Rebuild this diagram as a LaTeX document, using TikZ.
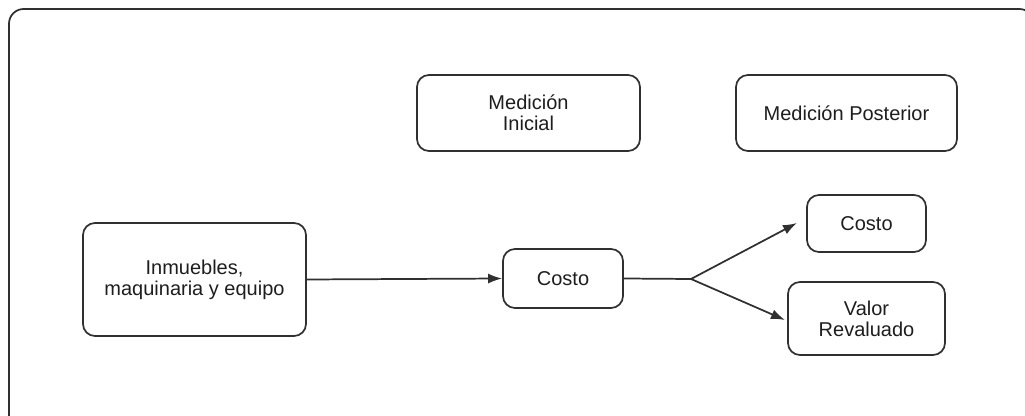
\documentclass[tikz,border=0pt]{standalone}
\usepackage{fontspec}
\setmainfont{Liberation Sans}
\usetikzlibrary{arrows.meta}
\definecolor{linec}{HTML}{303030}
\definecolor{textc}{HTML}{1E1E1E}
\begin{document}
\begin{tikzpicture}[x=0.75pt,y=-0.75pt,
  box/.style={draw=linec, line width=1.3pt, rounded corners=9pt, fill=white,
    align=center, inner sep=0pt, text=textc,
    font=\fontsize{15}{15.8}\selectfont},
  conn/.style={draw=linec, line width=1.3pt},
  arr/.style={conn, -{Latex[length=10.5pt,width=7.5pt]}}]
\useasboundingbox (0,0) rectangle (1025,416);
% outer frame, running past the page on the right and bottom
\begin{scope}
  \clip (0,0) rectangle (1025,416);
  \draw[linec, line width=1.3pt, rounded corners=11pt] (9,9) rectangle (1034,430);
\end{scope}
% column headings
\node[box, minimum width=167.25pt, minimum height=57pt] (inicial) at (528.5,113) {Medición\\Inicial};
\node[box, minimum width=165.75pt, minimum height=57pt] (posterior) at (846.5,113) {Medición Posterior};
% asset and measurement models
\node[box, minimum width=167.25pt, minimum height=84.75pt] (inm) at (194.5,279.5) {Inmuebles,\\maquinaria y equipo};
\node[box, minimum width=90pt, minimum height=44.25pt] (costo1) at (563,278.5) {Costo};
\node[box, minimum width=89.25pt, minimum height=42.75pt] (costo2) at (866.5,223.5) {Costo};
\node[box, minimum width=117.75pt, minimum height=54.75pt] (valor) at (866.5,318.5) {Valor\\Revaluado};
% connectors
\coordinate (split) at (691,279);
\coordinate (tipA) at (797,223);
\coordinate (tipB) at (785,320);
\draw[arr] (inm.east) -- (costo1.west);
\draw[conn] (costo1.east) -- (split);
\draw[arr] (split) -- (tipA);
\draw[arr] (split) -- (tipB);
\end{tikzpicture}
\end{document}
